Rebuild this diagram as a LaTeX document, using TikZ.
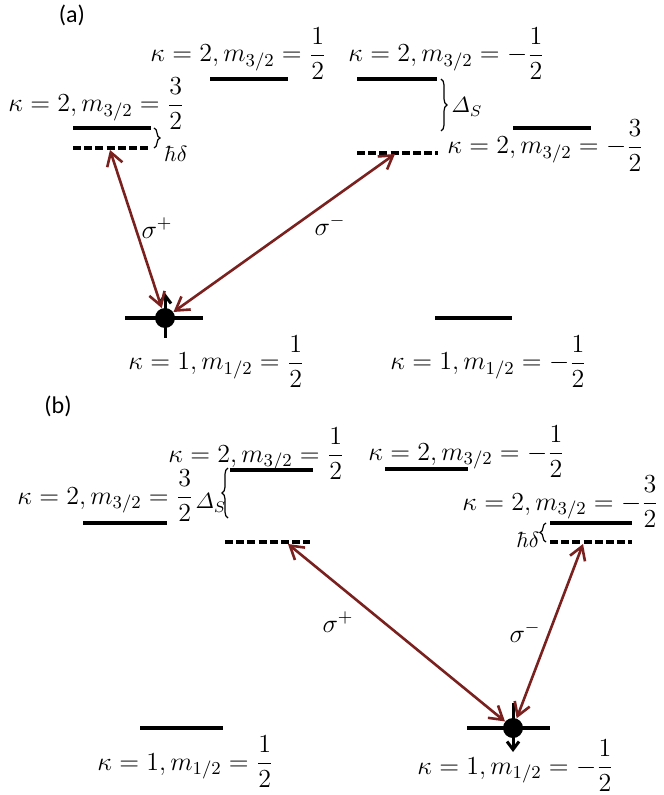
\documentclass[tikz,border=0pt]{standalone}
\usepackage{fix-cm}
\usepackage{amsmath}
\usepackage{fontspec}
\newfontfamily\panelfont{Carlito}
\usetikzlibrary{arrows.meta,decorations.pathreplacing}
\definecolor{photonred}{RGB}{122,32,30}

\begin{document}
\begin{tikzpicture}[x=0.5pt,y=-0.5pt,
  every node/.style={font=\fontsize{13}{16}\selectfont,inner sep=0pt},
  level/.style={line width=2pt},
  virt/.style={line width=2pt,dash pattern=on 4pt off 1.6pt},
  photon/.style={{Straight Barb[length=6.5pt,width=8pt]}-{Straight Barb[length=6.5pt,width=8pt]},
    line width=1.3pt,photonred},
  spin/.style={-{Straight Barb[length=4pt,width=6pt]},line width=1.5pt},
  electron/.style={circle,fill=black,minimum size=10pt},
  gap/.style={decorate,decoration={brace,amplitude=3pt},line width=0.6pt},
  lab/.style={anchor=base west},
  small/.style={font=\fontsize{11}{13}\selectfont},
  panel/.style={font=\panelfont\fontsize{12}{14}\selectfont}
]
  \useasboundingbox (0,0) rectangle (663,795);

  % ---- panel (a)
  \node[panel] (pa) at (72,15) {(a)};
  \draw[level] (73,128) -- (151,128);
  \draw[virt] (73,148) -- (151,148);
  \draw[level] (210,79) -- (288,79);
  \draw[level] (357,79) -- (437,79);
  \draw[virt] (357,153) -- (438,153);
  \draw[level] (513,128) -- (591,128);
  \node[lab] (a32) at (8,112) {$\kappa = 2, m_{3/2} = \dfrac{3}{2}$};
  \node[lab] (a12) at (150,62) {$\kappa = 2, m_{3/2} = \dfrac{1}{2}$};
  \node[lab] (am12) at (348,62) {$\kappa = 2, m_{3/2} = -\dfrac{1}{2}$};
  \node[lab] (am32) at (447,154) {$\kappa = 2, m_{3/2} = -\dfrac{3}{2}$};
  \draw[gap] (154,128) -- (154,148);
  \node[small,anchor=west] (hda) at (164,154) {$\hbar\delta$};
  \draw[gap] (441,79) -- (441,131);
  \node[small] (dsa) at (467,107) {$\varDelta_S$};

  \draw[level] (125,318) -- (203,318);
  \draw[level] (435,318) -- (512,318);
  \node[electron] (ea) at (165,318) {};
  \draw[spin] (165,338) -- (165,293);
  \node[lab] (ga) at (128,370) {$\kappa = 1, m_{1/2} = \dfrac{1}{2}$};
  \node[lab] (gma) at (390,370) {$\kappa = 1, m_{1/2} = -\dfrac{1}{2}$};

  \coordinate (va) at (110,150);
  \coordinate (vb) at (395,154);
  \draw[photon] (va) -- (ea);
  \draw[photon] (vb) -- (ea);
  \node (spa) at (157,228) {$\sigma^+$};
  \node (sma) at (330,225) {$\sigma^-$};

  % ---- panel (b)
  \node[panel] (pb) at (58,406) {(b)};
  \draw[level] (83,523) -- (167,523);
  \draw[level] (230,470) -- (313,470);
  \draw[virt] (225,542) -- (310,542);
  \draw[level] (385,469) -- (468,469);
  \draw[level] (550,523) -- (632,523);
  \draw[virt] (550,542) -- (632,542);
  \node[lab] (b32) at (17,504) {$\kappa = 2, m_{3/2} = \dfrac{3}{2}$};
  \node[lab] (b12) at (168,462) {$\kappa = 2, m_{3/2} = \dfrac{1}{2}$};
  \node[lab] (bm12) at (368,460) {$\kappa = 2, m_{3/2} = -\dfrac{1}{2}$};
  \node[lab] (bm32) at (462,510) {$\kappa = 2, m_{3/2} = -\dfrac{3}{2}$};
  \draw[gap] (228,518) -- (228,468);
  \node[small] (dsb) at (211,503) {$\varDelta_S$};
  \draw[gap] (546,542) -- (546,523);
  \node[small,anchor=east] (hdb) at (540,540) {$\hbar\delta$};

  \draw[level] (140,728) -- (223,728);
  \draw[level] (467,728) -- (550,728);
  \node[electron] (eb) at (513,728) {};
  \draw[spin] (513,703) -- (513,752);
  \node[lab] (gb) at (97,770) {$\kappa = 1, m_{1/2} = \dfrac{1}{2}$};
  \node[lab] (gmb) at (417,774) {$\kappa = 1, m_{1/2} = -\dfrac{1}{2}$};

  \coordinate (vc) at (288,544);
  \coordinate (vd) at (583,544);
  \draw[photon] (vc) -- (eb);
  \draw[photon] (vd) -- (eb);
  \node (spb) at (338,622) {$\sigma^+$};
  \node (smb) at (525,632) {$\sigma^-$};
\end{tikzpicture}
\end{document}
